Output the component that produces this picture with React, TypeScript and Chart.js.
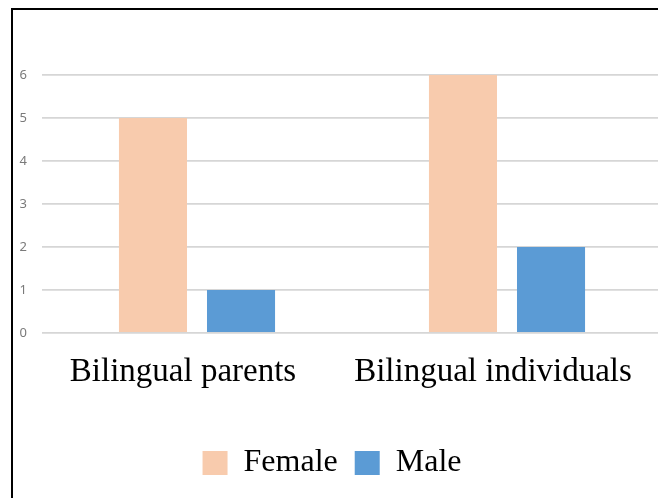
import { useEffect, useRef } from "react";
import { Chart, registerables } from "chart.js";
Chart.register(...registerables);

const categories = ["Bilingual parents", "Bilingual individuals"];
const femaleValues = [5, 6];
const maleValues = [1, 2];
const yMin = 0;
const yMax = 6;
const yStep = 1;

export default function App() {
  const ref = useRef<HTMLCanvasElement>(null);
  useEffect(() => {
    const chart = new Chart(ref.current!, {
      type: "bar",
      data: {
        labels: categories,
        datasets: [
          { label: "Female", data: femaleValues, backgroundColor: "#F8CBAD", categoryPercentage: 0.568, barPercentage: 0.773 },
          { label: "Male", data: maleValues, backgroundColor: "#5B9BD5", categoryPercentage: 0.568, barPercentage: 0.773 },
        ],
      },
      options: {
        animation: false,
        responsive: false,
        maintainAspectRatio: false,
        layout: { padding: { top: 75, bottom: 9, left: 0, right: 0 } },
        scales: {
          x: {
            grid: { display: false },
            border: { display: false },
            ticks: {
              font: { family: "Liberation Serif", size: 33 },
              color: "#000",
              padding: 12,
              labelOffset: -14,
              maxRotation: 0,
              autoSkip: false,
            },
            afterFit: (s: any) => { s.height = 97; },
          },
          y: {
            min: yMin,
            max: yMax,
            ticks: { stepSize: yStep, font: { family: "Noto Sans", size: 13 }, color: "#7a7a7a", padding: 15 },
            grid: { color: "#d6d6d6", lineWidth: 1.8, drawTicks: false },
            border: { display: false },
            afterFit: (s: any) => { s.width = 40; },
          },
        },
        plugins: {
          legend: {
            position: "bottom",
            labels: {
              boxWidth: 25,
              boxHeight: 24,
              padding: 17,
              color: "#000",
              font: { family: "Liberation Serif", size: 32 },
            },
          },
          tooltip: { enabled: false },
        },
      },
    });
    return () => chart.destroy();
  }, []);
  return (
    <div style={{ position: "fixed", left: 0, top: 0, width: 658, height: 498, overflow: "hidden", background: "#fff" }}>
      <div style={{ position: "absolute", left: 11, top: 8, width: 700, height: 600, borderTop: "2px solid #000", borderLeft: "2px solid #000" }} />
      <canvas ref={ref} width={660} height={498} style={{ position: "absolute", left: 2, top: 0, width: 660, height: 498 }} />
    </div>
  );
}
